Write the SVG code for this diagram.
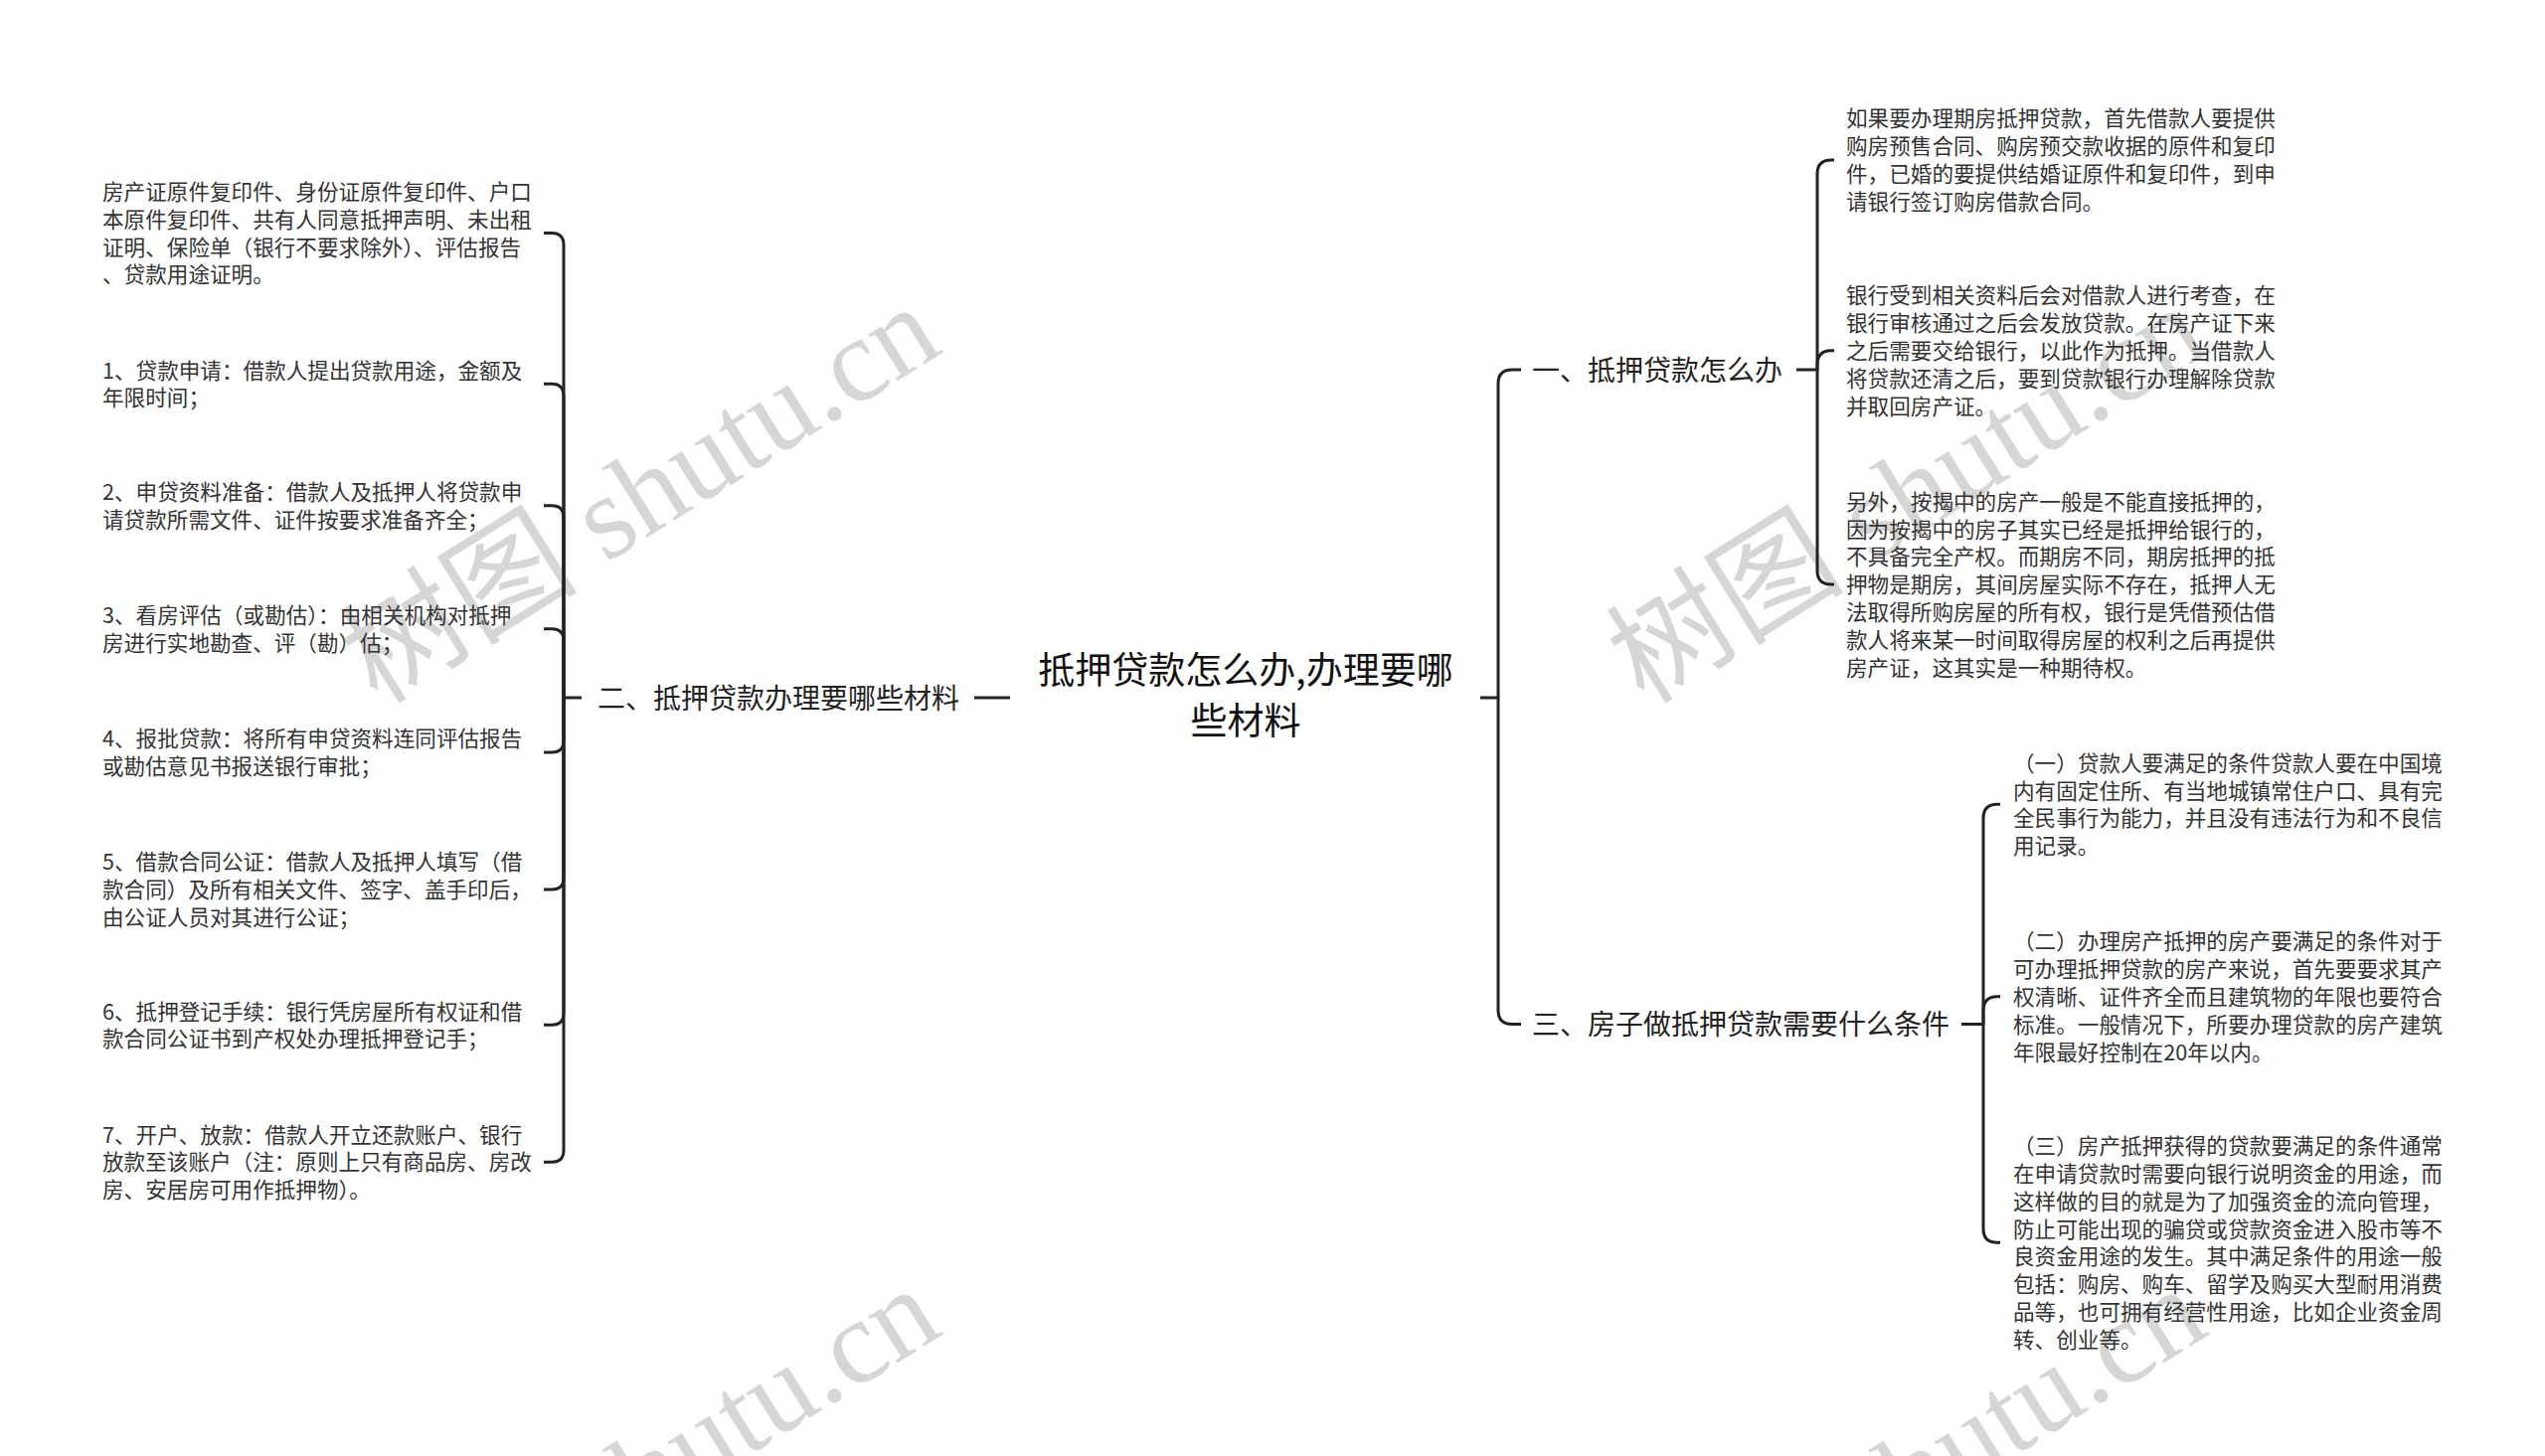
<svg xmlns="http://www.w3.org/2000/svg" width="2560" height="1465" viewBox="0 0 2560 1465">
<style>
.wm{font-family:"Liberation Serif","Noto Sans CJK SC",serif;font-size:120px;fill:#d6d6d6}
.leaf{font-family:"Noto Sans CJK SC","Noto Sans",sans-serif;font-size:21.6px;fill:#333}
.node{font-family:"Noto Sans CJK SC","Noto Sans",sans-serif;font-size:28px;fill:#222}
.root{font-family:"Noto Sans CJK SC","Noto Sans",sans-serif;font-size:37px;fill:#111}
.edge{fill:none;stroke:#222;stroke-width:3;stroke-linecap:butt;stroke-linejoin:round}
</style>
<rect width="2560" height="1465" fill="#fff"/>
<g id="watermarks">
<text class="wm" transform="translate(380,710) rotate(-32)">树图 shutu.cn</text>
<text class="wm" transform="translate(1654,710) rotate(-32)">树图 shutu.cn</text>
<text class="wm" transform="translate(380,1698) rotate(-32)">树图 shutu.cn</text>
<text class="wm" transform="translate(1654,1698) rotate(-32)">树图 shutu.cn</text>
</g>
<g id="connectors" class="edge">
<path d="M1016,702 H980"/>
<path d="M585,702 H567 V246.4 Q567,234.4 555,234.4 H547"/>
<path d="M567,702 V398.2 Q567,386.2 555,386.2 H547"/>
<path d="M567,702 V520.7 Q567,508.7 555,508.7 H547"/>
<path d="M567,702 V644.8 Q567,632.8 555,632.8 H547"/>
<path d="M567,702 V744.9 Q567,756.9 555,756.9 H547"/>
<path d="M567,702 V882.9 Q567,894.9 555,894.9 H547"/>
<path d="M567,702 V1019.2 Q567,1031.2 555,1031.2 H547"/>
<path d="M567,702 V1157.2 Q567,1169.2 555,1169.2 H547"/>
<path d="M1489,702 H1507 V386 Q1507,372 1521,372 H1530"/>
<path d="M1507,702 V1016.4 Q1507,1030.4 1521,1030.4 H1530"/>
<path d="M1807,372 H1828 V174.9 Q1828,160.9 1842,160.9 H1845"/>
<path d="M1828,372 V366.8 Q1828,352.8 1842,352.8 H1845"/>
<path d="M1828,372 V574 Q1828,588 1842,588 H1845"/>
<path d="M1973,1030.4 H1995 V823.2 Q1995,809.2 2009,809.2 H2012"/>
<path d="M1995,1030.4 V1016.7 Q1995,1002.7 2009,1002.7 H2012"/>
<path d="M1995,1030.4 V1236.2 Q1995,1250.2 2009,1250.2 H2012"/>
</g>
<g id="root">
<text class="root" text-anchor="middle"><tspan x="1253" y="688.4">抵押贷款怎么办,办理要哪</tspan><tspan x="1253" y="739">些材料</tspan></text>
</g>
<g id="n1"><text class="node" x="1541" y="382.6">一、抵押贷款怎么办</text></g>
<g id="n2"><text class="node" x="601" y="712.6">二、抵押贷款办理要哪些材料</text></g>
<g id="n3"><text class="node" x="1541" y="1041">三、房子做抵押贷款需要什么条件</text></g>
<g id="l1"><text class="leaf"><tspan x="103" y="200.9">房产证原件复印件、身份证原件复印件、户口</tspan><tspan x="103" dy="27.8">本原件复印件、共有人同意抵押声明、未出租</tspan><tspan x="103" dy="27.8">证明、保险单（银行不要求除外）、评估报告</tspan><tspan x="103" dy="27.8">、贷款用途证明。</tspan></text></g>
<g id="l2"><text class="leaf"><tspan x="103" y="380.5">1、贷款申请：借款人提出贷款用途，金额及</tspan><tspan x="103" dy="27.8">年限时间；</tspan></text></g>
<g id="l3"><text class="leaf"><tspan x="103" y="503">2、申贷资料准备：借款人及抵押人将贷款申</tspan><tspan x="103" dy="27.8">请贷款所需文件、证件按要求准备齐全；</tspan></text></g>
<g id="l4"><text class="leaf"><tspan x="103" y="627.1">3、看房评估（或勘估）：由相关机构对抵押</tspan><tspan x="103" dy="27.8">房进行实地勘查、评（勘）估；</tspan></text></g>
<g id="l5"><text class="leaf"><tspan x="103" y="751.2">4、报批贷款：将所有申贷资料连同评估报告</tspan><tspan x="103" dy="27.8">或勘估意见书报送银行审批；</tspan></text></g>
<g id="l6"><text class="leaf"><tspan x="103" y="875.3">5、借款合同公证：借款人及抵押人填写（借</tspan><tspan x="103" dy="27.8">款合同）及所有相关文件、签字、盖手印后，</tspan><tspan x="103" dy="27.8">由公证人员对其进行公证；</tspan></text></g>
<g id="l7"><text class="leaf"><tspan x="103" y="1025.5">6、抵押登记手续：银行凭房屋所有权证和借</tspan><tspan x="103" dy="27.8">款合同公证书到产权处办理抵押登记手；</tspan></text></g>
<g id="l8"><text class="leaf"><tspan x="103" y="1149.6">7、开户、放款：借款人开立还款账户、银行</tspan><tspan x="103" dy="27.8">放款至该账户（注：原则上只有商品房、房改</tspan><tspan x="103" dy="27.8">房、安居房可用作抵押物）。</tspan></text></g>
<g id="r1a"><text class="leaf"><tspan x="1857" y="127.4">如果要办理期房抵押贷款，首先借款人要提供</tspan><tspan x="1857" dy="27.8">购房预售合同、购房预交款收据的原件和复印</tspan><tspan x="1857" dy="27.8">件，已婚的要提供结婚证原件和复印件，到申</tspan><tspan x="1857" dy="27.8">请银行签订购房借款合同。</tspan></text></g>
<g id="r1b"><text class="leaf"><tspan x="1857" y="305.4">银行受到相关资料后会对借款人进行考查，在</tspan><tspan x="1857" dy="27.8">银行审核通过之后会发放贷款。在房产证下来</tspan><tspan x="1857" dy="27.8">之后需要交给银行，以此作为抵押。当借款人</tspan><tspan x="1857" dy="27.8">将贷款还清之后，要到贷款银行办理解除贷款</tspan><tspan x="1857" dy="27.8">并取回房产证。</tspan></text></g>
<g id="r1c"><text class="leaf"><tspan x="1857" y="512.8">另外，按揭中的房产一般是不能直接抵押的，</tspan><tspan x="1857" dy="27.8">因为按揭中的房子其实已经是抵押给银行的，</tspan><tspan x="1857" dy="27.8">不具备完全产权。而期房不同，期房抵押的抵</tspan><tspan x="1857" dy="27.8">押物是期房，其间房屋实际不存在，抵押人无</tspan><tspan x="1857" dy="27.8">法取得所购房屋的所有权，银行是凭借预估借</tspan><tspan x="1857" dy="27.8">款人将来某一时间取得房屋的权利之后再提供</tspan><tspan x="1857" dy="27.8">房产证，这其实是一种期待权。</tspan></text></g>
<g id="r3a"><text class="leaf"><tspan x="2025" y="775.7">（一）贷款人要满足的条件贷款人要在中国境</tspan><tspan x="2025" dy="27.8">内有固定住所、有当地城镇常住户口、具有完</tspan><tspan x="2025" dy="27.8">全民事行为能力，并且没有违法行为和不良信</tspan><tspan x="2025" dy="27.8">用记录。</tspan></text></g>
<g id="r3b"><text class="leaf"><tspan x="2025" y="955.3">（二）办理房产抵押的房产要满足的条件对于</tspan><tspan x="2025" dy="27.8">可办理抵押贷款的房产来说，首先要要求其产</tspan><tspan x="2025" dy="27.8">权清晰、证件齐全而且建筑物的年限也要符合</tspan><tspan x="2025" dy="27.8">标准。一般情况下，所要办理贷款的房产建筑</tspan><tspan x="2025" dy="27.8">年限最好控制在20年以内。</tspan></text></g>
<g id="r3c"><text class="leaf"><tspan x="2025" y="1161.1">（三）房产抵押获得的贷款要满足的条件通常</tspan><tspan x="2025" dy="27.8">在申请贷款时需要向银行说明资金的用途，而</tspan><tspan x="2025" dy="27.8">这样做的目的就是为了加强资金的流向管理，</tspan><tspan x="2025" dy="27.8">防止可能出现的骗贷或贷款资金进入股市等不</tspan><tspan x="2025" dy="27.8">良资金用途的发生。其中满足条件的用途一般</tspan><tspan x="2025" dy="27.8">包括：购房、购车、留学及购买大型耐用消费</tspan><tspan x="2025" dy="27.8">品等，也可拥有经营性用途，比如企业资金周</tspan><tspan x="2025" dy="27.8">转、创业等。</tspan></text></g>
</svg>
